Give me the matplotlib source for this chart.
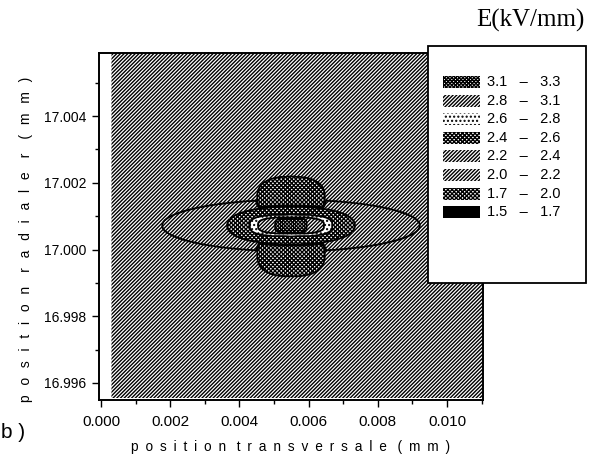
import numpy as np
import matplotlib
matplotlib.use("Agg")
import matplotlib.pyplot as plt
from matplotlib.patches import Rectangle
from matplotlib.ticker import MultipleLocator, FormatStrFormatter

# ---------------- data ----------------
levels = [1.5, 1.7, 2.0, 2.2, 2.4, 2.6, 2.8, 3.1, 3.3]          # E bands (kV/mm)
band_hatches = [None, "x" * 8, "/" * 9, "/" * 9, "x" * 8, "." * 4, "/" * 9, "x" * 9]
band_faces = ["black", "white", "white", "white", "white", "white", "white", "white"]

background_E = 2.1                       # field far from the defect
center_x = 0.00549                       # mm
center_r = 17.00072                      # mm
core_levels = [2.2, 2.4, 2.6, 2.8, 3.1]  # nested iso-E contours around the centre
core_half_x = [0.00373, 0.00185, 0.00120, 0.00096, 0.00046]
core_half_r = [0.00078, 0.00057, 0.00033, 0.00025, 0.000225]
core_shape = [2.0, 2.2, 3.0, 3.0, 4.0]
lobe_level = 2.0                         # low-field lobes above / below
lobe_offset_r = [0.00085, -0.00088]
lobe_half_x = [0.00098, 0.00098]
lobe_half_r = [0.00062, 0.00065]
lobe_shape = 2.5

x_range = [0.0003, 0.01104]
r_range = [16.99555, 17.00589]
x_ticks = [0.000, 0.002, 0.004, 0.006, 0.008, 0.010]
r_ticks = [16.996, 16.998, 17.000, 17.002, 17.004]

# ---------------- field ----------------
x = np.linspace(x_range[0], x_range[1], 900)
r = np.linspace(r_range[0], r_range[1], 800)
X, R = np.meshgrid(x, r)
DX, DR = X - center_x, R - center_r


def rho(dx, dr, a, b, p):
    return (np.abs(dx / a) ** p + np.abs(dr / b) ** p) ** (1.0 / p)


steep, eps = 8.0, 0.05


def rise(L, q):
    return np.where(q <= 1, L + eps * (1 - q), L - steep * (q - 1))


F = np.maximum(background_E, rise(core_levels[0], rho(DX, DR, core_half_x[0], core_half_r[0], core_shape[0])))
lobe = np.full_like(F, 10.0)
for off, a, b in zip(lobe_offset_r, lobe_half_x, lobe_half_r):
    q = rho(DX, DR - off, a, b, lobe_shape)
    lobe = np.minimum(lobe, np.where(q <= 1, lobe_level - 0.1 * (1 - q), lobe_level + steep * (q - 1)))
F = np.minimum(F, lobe)
for L, a, b, p in zip(core_levels[1:], core_half_x[1:], core_half_r[1:], core_shape[1:]):
    F = np.maximum(F, rise(L, rho(DX, DR, a, b, p)))

# ---------------- figure ----------------
W, H = 594, 469
plt.rcParams["hatch.linewidth"] = 1.0
plt.rcParams["hatch.color"] = "black"
plt.rcParams["font.family"] = ["Liberation Sans", "DejaVu Sans"]
fig = plt.figure(figsize=(W / 100, H / 100), dpi=100)
ax = fig.add_axes([99 / W, 69 / H, 384 / W, 347 / H])

cf = ax.contourf(X, R, F, levels=levels, colors=band_faces, hatches=band_hatches)
ax.contour(X, R, F, levels=levels[1:-1], colors="black", linewidths=1.3)

ax.set_xlim(-0.00006, 0.01104)
ax.set_ylim(16.99549, 17.00589)
ax.set_xticks(x_ticks)
ax.set_yticks(r_ticks)
ax.xaxis.set_minor_locator(MultipleLocator(0.001))
ax.yaxis.set_minor_locator(MultipleLocator(0.001))
ax.xaxis.set_major_formatter(FormatStrFormatter("%.3f"))
ax.yaxis.set_major_formatter(FormatStrFormatter("%.3f"))
ax.tick_params(which="major", direction="out", length=5, width=1.0, pad=4)
ax.tick_params(axis="y", which="major", labelsize=10)
ax.tick_params(axis="x", which="major", labelsize=11, pad=6)
ax.tick_params(which="minor", direction="out", length=3, width=1.0)
for s in ax.spines.values():
    s.set_linewidth(1.4)


def spaced(s, gap, word_gap):
    return word_gap.join(gap.join(w) for w in s.split(" "))


ax.set_xlabel(spaced("position transversale (mm)", "\u2002", "\u2002 "), fontsize=9.8, labelpad=8)
ax.set_ylabel(spaced("position radiale r (mm)", "\u2002\u2009", "\u2002\u2002"), fontsize=10)
ax.yaxis.set_label_coords((33 - 99) / 384, (400 - 239) / 347)

# ---------------- legend (drawn by hand) ----------------
def fx(px):
    return px / W


def fy(py):
    return 1 - py / H


fig.add_artist(Rectangle((fx(428), fy(283)), fx(586) - fx(428), fy(46) - fy(283),
                         transform=fig.transFigure, facecolor="white", edgecolor="black",
                         linewidth=1.3, zorder=5))
fig.text(fx(530), fy(20), "E(kV/mm)", ha="center", va="center", fontsize=18,
         family=["Liberation Serif", "DejaVu Serif"], zorder=6)
n = len(levels) - 1
for i in range(n):
    k = n - 1 - i
    yc = 82 + i * 18.6
    fig.add_artist(Rectangle((fx(443), fy(yc + 6)), fx(480) - fx(443), fy(yc - 6) - fy(yc + 6),
                             transform=fig.transFigure, facecolor=band_faces[k],
                             edgecolor="black", linewidth=0, hatch=band_hatches[k], zorder=6))
    fig.text(fx(487), fy(yc), f"{levels[k]:.1f}   –   {levels[k + 1]:.1f}", ha="left", va="center",
             fontsize=10.5, zorder=7)

fig.text(fx(1), fy(432), "b )", ha="left", va="center", fontsize=15)

fig.savefig("out.png", dpi=100)
